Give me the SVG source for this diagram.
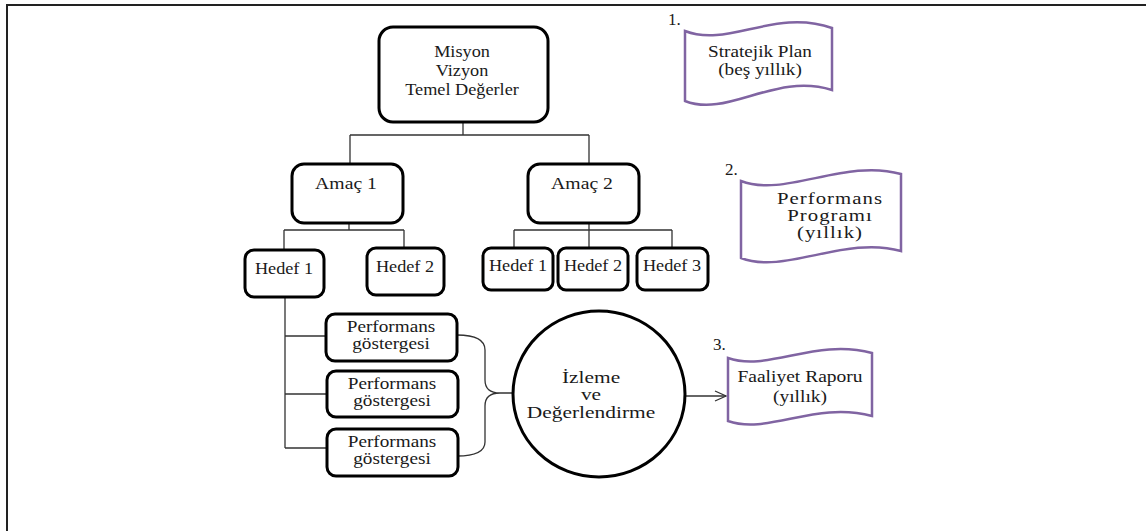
<svg xmlns="http://www.w3.org/2000/svg" width="1146" height="531" viewBox="0 0 1146 531">
<style>
.box{fill:#fff;stroke:#000;stroke-width:3}
.tape{fill:#fff;stroke:#8064a2;stroke-width:2.5}
.ln{fill:none;stroke:#333;stroke-width:1.3}
text{font-family:'Liberation Serif','Times New Roman',Times,'DejaVu Serif',serif;fill:#1a1a1a;text-anchor:middle;font-size:16px}
.num{text-anchor:start;font-size:17px}
.wide{letter-spacing:0.8px;font-size:16px}
</style>
<defs>
<marker id="arr" markerUnits="userSpaceOnUse" markerWidth="14" markerHeight="14" refX="12" refY="6" orient="auto">
<path d="M1,1 L12,6 L1,11" fill="none" stroke="#333" stroke-width="1.3"/>
</marker>
</defs>
<rect width="1146" height="531" fill="#fff"/>
<path d="M7,531 V5 H1146" fill="none" stroke="#222" stroke-width="2"/>
<g id="connectors">
<path class="ln" d="M463,122 V135 M350,135 H589 M350,135 V164 M589,135 V164"/>
<path class="ln" d="M349,223 V230 M284,230 H404 M284,230 V250 M404,230 V248"/>
<path class="ln" d="M589,223 V230 M514,230 H672 M514,230 V248 M589,230 V248 M672,230 V248"/>
<path class="ln" d="M285,297 V448 M285,336 H326 M285,394 H327 M285,448 H327"/>
<path class="ln" d="M457,335 Q485,335 485,350 L485,380 Q485,393 500,393 L513,393 M500,393 Q485,393 485,406 L485,442 Q485,456 457,456"/>
<path class="ln" d="M685,396 H726" marker-end="url(#arr)"/>
</g>
<g id="misyon"><rect class="box" x="379" y="27" width="169" height="95" rx="14"/>
<g transform="translate(462,0) scale(1.14,1)"><text x="0" y="57">Misyon</text><text x="0" y="76">Vizyon</text><text x="0" y="95">Temel Değerler</text></g></g>
<g id="amac1"><rect class="box" x="292" y="164" width="111" height="59" rx="12"/><g transform="translate(346,0) scale(1.16,1)"><text x="0" y="189" style="font-size:17px">Amaç 1</text></g></g>
<g id="amac2"><rect class="box" x="528" y="164" width="111" height="59" rx="12"/><g transform="translate(582,0) scale(1.16,1)"><text x="0" y="189" style="font-size:17px">Amaç 2</text></g></g>
<g id="hedef1a"><rect class="box" x="245" y="250" width="79" height="47" rx="9"/><g transform="translate(284,0) scale(1.14,1)"><text x="0" y="274">Hedef 1</text></g></g>
<g id="hedef2a"><rect class="box" x="367" y="248" width="77" height="47" rx="9"/><g transform="translate(405,0) scale(1.14,1)"><text x="0" y="272">Hedef 2</text></g></g>
<g id="hedef1b"><rect class="box" x="483" y="248" width="70" height="42" rx="8"/><g transform="translate(518,0) scale(1.14,1)"><text x="0" y="271">Hedef 1</text></g></g>
<g id="hedef2b"><rect class="box" x="558" y="248" width="70" height="42" rx="8"/><g transform="translate(593,0) scale(1.14,1)"><text x="0" y="271">Hedef 2</text></g></g>
<g id="hedef3b"><rect class="box" x="637" y="248" width="71" height="42" rx="8"/><g transform="translate(672,0) scale(1.14,1)"><text x="0" y="271">Hedef 3</text></g></g>
<g id="pg1"><rect class="box" x="326" y="314" width="131" height="47" rx="9"/><g transform="translate(391,0) scale(1.2,1)"><text x="0" y="332">Performans</text><text x="0" y="349">göstergesi</text></g></g>
<g id="pg2"><rect class="box" x="327" y="371" width="131" height="46" rx="9"/><g transform="translate(392,0) scale(1.2,1)"><text x="0" y="389">Performans</text><text x="0" y="406">göstergesi</text></g></g>
<g id="pg3"><rect class="box" x="327" y="429" width="131" height="47" rx="9"/><g transform="translate(392,0) scale(1.2,1)"><text x="0" y="447">Performans</text><text x="0" y="464">göstergesi</text></g></g>
<g id="izleme"><ellipse class="box" cx="599" cy="394" rx="86" ry="83"/>
<g transform="translate(591,0) scale(1.26,1)"><text x="0" y="383" style="font-size:17px">İzleme</text><text x="0" y="400" style="font-size:17px">ve</text><text x="0" y="418" style="font-size:17px">Değerlendirme</text></g></g>
<g id="stratejik"><text class="num" x="668" y="25">1.</text>
<path class="tape" d="M685,31 C728,48 775,8 832,28 V90 C775,72 728,118 685,101 Z"/>
<g transform="translate(760,0) scale(1.2,1)"><text x="0" y="57">Stratejik Plan</text><text x="0" y="75">(beş yıllık)</text></g></g>
<g id="performans"><text class="num" x="725" y="175">2.</text>
<path class="tape" d="M741,181 C785,198 845,158 901,174 V251 C845,235 785,275 741,258 Z"/>
<g transform="translate(830,0) scale(1.3,1)"><text class="wide" x="0" y="204">Performans</text><text class="wide" x="0" y="221">Programı</text><text class="wide" x="0" y="238">(yıllık)</text></g></g>
<g id="faaliyet"><text class="num" x="713" y="350">3.</text>
<path class="tape" d="M728,358 C768,372 815,338 872,353 V416 C815,401 768,435 728,421 Z"/>
<g transform="translate(800,0) scale(1.22,1)"><text x="0" y="382">Faaliyet Raporu</text><text x="0" y="402">(yıllık)</text></g></g>
</svg>
